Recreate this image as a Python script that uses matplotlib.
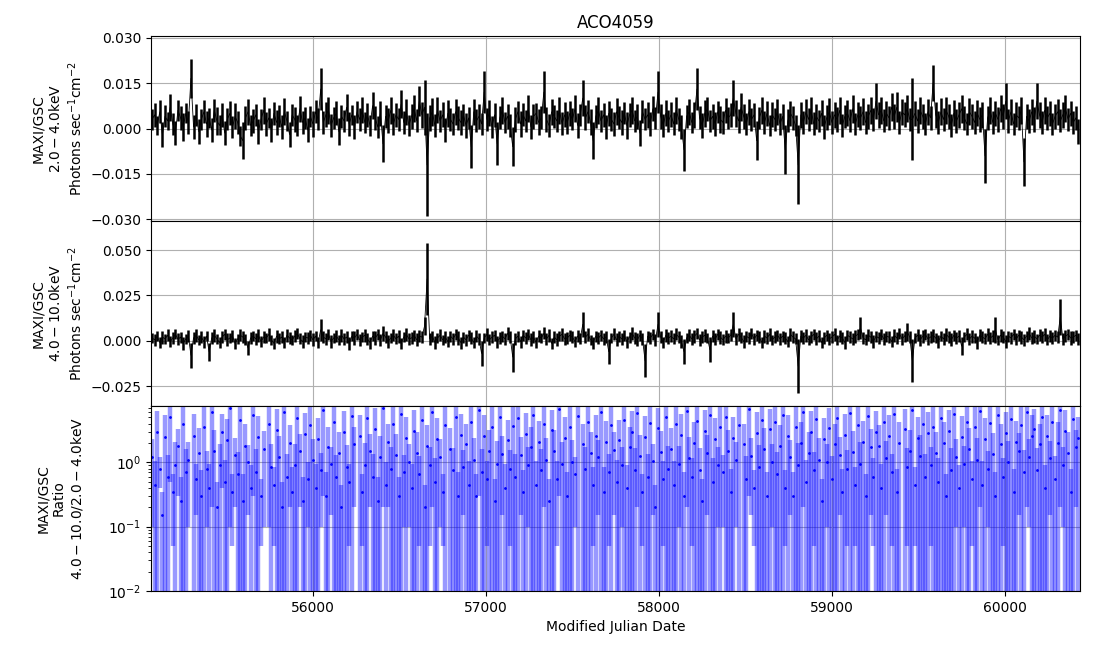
import numpy as np
import matplotlib
matplotlib.use("Agg")
import matplotlib.pyplot as plt
from matplotlib.ticker import MultipleLocator, FixedLocator

# ---- data (fluxes / errors in units of 1e-4 photons s^-1 cm^-2) ----
mjd_start = 55070
bin_days = 15

flux_lo = [
    30, 45, 10, 55, -20, 40, 25, 70, 15, -15, 60, 35, 5, 50, 20, 165, 5, 45, -10, 30,
    55, 15, 35, -5, 60, 25, 10, 45, -15, 30, 50, 5, 40, 20, -25, -40, 35, 55, 10, 25,
    45, -10, 30, 60, 15, 35, -5, 50, 20, 40, 5, 55, 25, -20, 45, 30, 10, 65, 20, 35,
    -5, 40, 15, 55, 30, 130, 20, 45, 60, 10, 35, 50, -10, 40, 25, 70, 15, 45, 5, 55,
    30, 60, 20, 45, 10, 75, 35, 5, 50, -50, 40, 25, 60, 15, 45, 30, 80, 20, 55, 10,
    40, 65, 25, 90, 45, 70, -120, 35, 55, 10, 60, 25, 45, -5, 50, 30, 15, 55, 35, 20,
    45, 10, 35, -60, 55, 25, 40, 15, 120, 30, 50, 5, 45, -50, 35, 60, 20, 40, 10, -60,
    30, 55, 15, 45, 25, 65, 5, 40, 50, 20, 35, 120, 30, 10, 55, 40, 25, 60, 15, 45,
    20, 50, 30, 65, 10, 45, 100, 35, 55, 20, -40, 40, 60, 25, 45, 5, 50, 30, 15, 55,
    35, 20, 50, 10, 45, 60, 25, 40, -15, 55, 30, 45, 15, 65, 35, 120, 40, 10, 50, 25,
    45, 15, 60, 30, 5, -70, 40, 55, 20, 45, 130, 35, 10, 50, 65, 25, 40, 15, 55, 30,
    20, 60, 35, 45, 100, 50, 25, 70, 40, 15, 55, 30, 45, -40, 35, 60, 20, 50, 10, 45,
    30, 55, 15, 40, -70, 25, 50, 35, 10, -120, 45, 20, 55, 30, 60, 15, 40, 25, 50, 5,
    35, 55, 20, 45, 30, 60, 10, 40, 50, 25, 65, 15, 45, 35, 55, 20, 40, 60, 30, 90,
    45, 60, 25, 50, 35, 70, 40, 70, 20, 55, 45, 65, 30, 30, 50, 25, 60, 40, 15, 55,
    35, 150, 45, 20, 55, 30, 60, 40, 10, 50, 25, 45, 65, 35, 15, 55, 40, 20, 50, 30,
    45, -90, 35, 60, 20, 50, 30, 65, 40, 90, 25, 55, 15, 45, 35, 60, -110, 40, 25, 55,
    30, 90, 45, 20, 60, 35, 50, 15, 40, 55, 25, 45, 65, 30, 50, 20, 35, -10,
]
err_lo = [
    35, 40, 32, 38, 42, 36, 30, 44, 37, 40, 34, 39, 45, 33, 38, 65, 41, 36, 40, 35,
    38, 42, 34, 40, 37, 45, 33, 39, 41, 36, 40, 35, 43, 38, 34, 60, 39, 42, 36, 40,
    37, 41, 35, 44, 39, 33, 40, 38, 42, 36, 39, 45, 34, 40, 37, 41, 35, 43, 38, 36,
    40, 35, 42, 38, 36, 70, 39, 41, 44, 37, 35, 40, 43, 38, 36, 45, 39, 34, 41, 37,
    38, 43, 36, 40, 35, 45, 39, 37, 42, 60, 38, 41, 44, 36, 40, 37, 46, 39, 42, 35,
    41, 45, 38, 50, 44, 90, 170, 42, 46, 39, 43, 37, 41, 40, 44, 38, 36, 42, 39, 41,
    37, 40, 35, 70, 42, 38, 41, 36, 70, 39, 43, 37, 40, 70, 38, 44, 36, 41, 39, 65,
    40, 37, 42, 38, 36, 44, 39, 41, 35, 43, 38, 70, 40, 37, 42, 39, 36, 45, 38, 41,
    39, 42, 36, 44, 40, 37, 60, 41, 38, 43, 60, 39, 45, 36, 40, 38, 42, 37, 41, 44,
    38, 41, 36, 43, 39, 45, 37, 40, 42, 38, 36, 44, 39, 41, 37, 70, 40, 38, 43, 36,
    41, 38, 44, 37, 40, 70, 39, 42, 36, 43, 70, 38, 41, 45, 39, 37, 42, 40, 36, 44,
    38, 42, 37, 40, 60, 44, 39, 46, 41, 36, 43, 38, 40, 65, 37, 44, 39, 42, 36, 41,
    39, 43, 37, 41, 80, 38, 42, 40, 36, 130, 44, 39, 41, 37, 45, 38, 40, 36, 43, 39,
    41, 44, 38, 42, 40, 45, 37, 39, 43, 38, 46, 36, 41, 40, 44, 38, 42, 45, 39, 60,
    42, 45, 38, 41, 39, 46, 40, 50, 37, 43, 41, 45, 38, 135, 42, 39, 44, 40, 37, 43,
    40, 60, 42, 38, 44, 39, 45, 41, 37, 43, 40, 42, 46, 39, 37, 44, 41, 38, 43, 40,
    42, 90, 39, 44, 38, 41, 40, 45, 42, 60, 39, 43, 37, 41, 40, 44, 80, 42, 39, 43,
    40, 60, 42, 38, 44, 39, 41, 37, 40, 43, 38, 42, 45, 39, 41, 38, 40, 42,
]
flux_hi = [
    15, 5, 25, -10, 20, 10, 30, -5, 15, 35, 8, 20, -15, 10, 25, -80, 15, 30, 5, 20,
    -5, 25, -60, 15, 30, 10, -10, 20, 35, 5, 15, 25, -15, 10, 30, 20, 5, -40, 15, 25,
    10, 30, -5, 20, 15, 35, 5, -15, 25, 10, 20, -10, 30, 15, 5, 25, 40, 10, -5, 20,
    15, 30, 5, 25, -10, 60, 20, 10, 35, -5, 15, 25, 5, 30, 10, 20, -15, 25, 15, 35,
    5, 20, 30, 10, -10, 25, 15, 35, 5, 40, 20, -5, 15, 30, 10, 25, -15, 20, 35, 10,
    15, 30, 5, 25, 20, 80, 340, 10, 25, -10, 15, 30, 5, 20, -5, 25, 10, 35, 15, -10,
    20, 5, 30, 15, -10, 25, 10, -70, 15, 35, 5, 20, 30, -5, 15, 25, 10, 40, 20, -90,
    10, 25, -5, 30, 15, 35, 5, 20, -10, 25, 15, 40, 10, 30, -15, 20, 5, 25, 35, 10,
    15, 30, 20, -5, 25, 10, 90, 20, 35, 5, -10, 25, 15, 30, 10, 20, -60, 15, 35, 5,
    25, 10, 30, -5, 20, 40, 15, 5, 30, 10, -110, 25, 15, 35, 5, 90, 20, -10, 30, 15,
    25, 10, 35, 20, -5, -60, 15, 30, 10, 25, 40, 5, 20, 30, 15, -50, 25, 10, 35, 20,
    5, 25, 15, 30, 90, 10, 35, 20, -5, 25, 15, 40, 10, 30, 20, -10, 25, 15, 35, 5,
    20, 30, 10, 25, 15, -5, 35, 20, 10, -140, 25, 15, 30, 5, 20, 35, 10, 25, -10, 15,
    30, 10, 20, 35, 5, 25, 15, -10, 30, 20, 10, 25, 35, 70, 15, 5, 30, 20, -5, 25,
    15, 35, 10, 25, 20, -5, 30, 15, 40, 10, 25, 50, 20, -110, 15, 30, 5, 25, 35, 10,
    20, 30, 15, -5, 25, 10, 35, 20, 5, 30, 15, 25, -30, 20, 35, 10, 25, 15, -10, 30,
    20, 10, 35, 15, 25, 60, 5, 30, 20, -5, 25, 15, 35, 10, 30, 20, 5, 25, 40, 15,
    25, 10, 30, 20, 35, 5, 25, 15, 30, 20, 130, 10, 25, 35, 15, 20, 30, 10,
]
err_hi = [
    30, 34, 28, 32, 36, 29, 33, 31, 35, 27, 32, 30, 34, 29, 33, 70, 31, 35, 28, 32,
    33, 29, 50, 31, 35, 28, 32, 34, 30, 36, 29, 33, 31, 27, 34, 32, 30, 40, 35, 29,
    31, 35, 29, 33, 30, 34, 28, 32, 36, 30, 33, 29, 35, 31, 28, 34, 32, 30, 36, 29,
    33, 30, 35, 28, 32, 60, 31, 34, 29, 36, 30, 33, 28, 35, 31, 32, 34, 29, 36, 30,
    32, 29, 35, 31, 33, 28, 36, 30, 34, 40, 31, 35, 29, 33, 30, 36, 32, 28, 34, 31,
    33, 30, 36, 32, 35, 50, 200, 34, 31, 36, 30, 33, 29, 35, 32, 30, 34, 31, 36, 33,
    30, 34, 31, 35, 29, 33, 32, 70, 30, 36, 31, 34, 29, 33, 35, 30, 32, 36, 31, 80,
    34, 30, 33, 29, 35, 31, 36, 32, 30, 34, 28, 33, 31, 35, 30, 32, 36, 29, 34, 31,
    33, 29, 35, 31, 34, 30, 70, 32, 36, 29, 33, 31, 35, 30, 34, 32, 70, 30, 33, 36,
    31, 35, 29, 33, 30, 34, 32, 36, 30, 33, 90, 31, 35, 29, 34, 70, 32, 30, 36, 31,
    34, 30, 33, 31, 35, 70, 29, 34, 32, 36, 30, 33, 31, 35, 29, 70, 32, 34, 30, 36,
    31, 35, 29, 33, 70, 32, 36, 30, 34, 31, 35, 29, 33, 30, 34, 32, 36, 31, 35, 29,
    33, 30, 35, 31, 34, 29, 36, 32, 30, 150, 33, 31, 35, 29, 34, 30, 36, 32, 31, 35,
    30, 34, 31, 35, 29, 33, 32, 36, 30, 34, 31, 35, 29, 60, 33, 30, 34, 32, 36, 31,
    35, 29, 33, 31, 34, 30, 36, 32, 29, 35, 31, 50, 33, 120, 30, 34, 32, 36, 29, 33,
    31, 35, 30, 34, 29, 33, 36, 31, 35, 30, 34, 32, 50, 29, 33, 31, 35, 30, 36, 32,
    34, 30, 35, 31, 33, 70, 29, 36, 32, 34, 30, 35, 31, 33, 29, 36, 32, 30, 34, 31,
    35, 29, 33, 31, 36, 30, 34, 32, 29, 35, 100, 31, 33, 30, 36, 32, 29, 34,
]
# hardness ratio (4-10 keV / 2-4 keV) and its error, in units of 0.01
ratio_val = [
    120, 45, 300, 80, 15, 250, 60, 500, 35, 90, 180, 25, 400, 70, 110, -40, 260, 55, 140, 30,
    350, 80, 40, 600, 150, 20, 90, 300, 50, 220, 700, 35, 130, 65, 450, 25, 180, 100, 40, 550,
    70, 250, 30, 160, -60, 400, 85, 45, 320, 120, 20, 600, 60, 200, 35, 90, 480, 150, 25, 280,
    55, 380, 110, 40, 230, 75, 650, 30, 170, 95, 420, 60, 140, 20, 300, 85, 50, 520, 190, -30,
    260, 35, 90, 480, 150, 60, 330, 25, 120, 700, 45, 210, 80, 390, 130, 30, 560, 70, 240, 100,
    40, 310, 140, 65, 450, 20, 180, 90, 600, 50, 230, 120, 35, 380, -50, 160, 75, 500, 30, 270,
    85, 190, 45, 420, 110, 30, 640, 70, 260, 55, 150, 350, 25, 95, 500, 135, 40, 220, 80, 370,
    60, 480, 130, 35, 280, 90, 170, 540, 45, 210, 75, 400, 110, 25, 320, 150, 55, 680, 95, 240,
    30, 350, 100, 65, 520, -40, 190, 80, 430, 140, 45, 260, 120, 600, 35, 210, 70, 380, 155, 50,
    220, 90, 460, 40, 170, 300, 75, 580, 125, 35, 250, 60, 410, 105, 20, 340, 145, 55, 500, 80,
    160, 45, 390, 95, 270, 30, 620, 115, 60, 200, 440, 75, 25, 310, 140, 540, 50, 230, 90, 360,
    70, 500, 150, 35, 240, 110, 380, -60, 190, 55, 670, 125, 40, 290, 85, 450, 160, 30, 330, 100,
    420, 65, 180, 550, 40, 260, 120, 30, 360, 90, 200, 610, 50, 140, 300, 75, 470, 110, 25, 230,
    100, 340, 55, 190, 480, 130, 35, 270, 80, 590, 145, 45, 380, 95, 210, 30, 520, 170, 60, 300,
    180, 40, 420, 115, 260, 70, 560, 35, 200, -50, 330, 85, 150, 640, 45, 240, 125, 400, 60, 290,
    90, 360, 140, 50, 490, 200, 30, 310, 75, 570, 120, 40, 250, 95, 430, 160, 55, 350, 110, 620,
    45, 230, 80, 410, 135, 30, 540, 190, 60, 290, 100, 470, 35, 210, 150, 380, 70, 600, 120, 260,
    330, 75, 190, 500, 40, 260, 115, 430, 55, 200, 650, 90, 310, 140, 35, 470, 170, 240,
]
ratio_err = [
    110, 60, 320, 40, 20, 290, 70, 450, 30, 120, 150, 35, 420, 90, 100, 20, 300, 40, 200, 45,
    380, 70, 55, 580, 170, 30, 100, 260, 60, 250, 690, 30, 110, 80, 470, 40, 210, 85, 50, 520,
    90, 270, 25, 150, 30, 390, 110, 40, 350, 140, 30, 610, 75, 180, 50, 100, 500, 130, 35, 310,
    45, 400, 120, 55, 250, 65, 620, 40, 190, 80, 450, 70, 160, 25, 330, 100, 45, 540, 170, 20,
    290, 30, 110, 500, 130, 75, 360, 35, 140, 680, 55, 190, 95, 410, 150, 30, 590, 60, 270, 90,
    55, 330, 160, 60, 470, 25, 200, 85, 580, 65, 250, 110, 30, 400, 20, 180, 90, 520, 40, 300,
    70, 210, 60, 440, 130, 35, 610, 90, 280, 50, 170, 370, 30, 120, 520, 120, 55, 240, 75, 390,
    75, 500, 115, 40, 300, 80, 190, 560, 60, 230, 85, 380, 130, 30, 340, 170, 50, 650, 110, 260,
    40, 370, 120, 55, 540, 25, 210, 95, 450, 160, 40, 280, 105, 620, 50, 230, 65, 400, 140, 60,
    240, 80, 480, 50, 190, 320, 90, 560, 140, 30, 270, 75, 430, 90, 25, 360, 165, 50, 520, 100,
    180, 60, 410, 85, 290, 40, 600, 130, 55, 220, 460, 90, 30, 330, 125, 560, 65, 250, 80, 380,
    60, 520, 170, 45, 260, 100, 400, 30, 210, 70, 640, 110, 35, 310, 100, 470, 180, 40, 350, 90,
    440, 80, 200, 570, 35, 280, 105, 40, 380, 110, 220, 590, 60, 160, 320, 70, 490, 130, 30, 250,
    90, 360, 70, 210, 500, 115, 45, 290, 75, 610, 160, 40, 400, 110, 230, 35, 540, 155, 55, 320,
    200, 55, 440, 100, 280, 65, 580, 45, 220, 30, 350, 80, 170, 660, 40, 260, 140, 420, 75, 310,
    85, 380, 160, 65, 510, 220, 35, 330, 90, 590, 110, 50, 270, 85, 450, 180, 50, 370, 125, 600,
    60, 250, 70, 430, 150, 40, 560, 210, 55, 310, 115, 490, 45, 230, 135, 400, 85, 580, 110, 280,
    350, 90, 210, 520, 50, 280, 100, 450, 70, 220, 630, 80, 330, 160, 45, 490, 150, 260,
]

title = "ACO4059"
xticks = [56000, 57000, 58000, 59000, 60000]

# ---- preparation ----
n = min(len(flux_lo), len(err_lo), len(flux_hi), len(err_hi),
        len(ratio_val), len(ratio_err))
f1 = np.array(flux_lo[:n], float) * 1e-4
e1 = np.array(err_lo[:n], float) * 1e-4
f2 = np.array(flux_hi[:n], float) * 1e-4
e2 = np.array(err_hi[:n], float) * 1e-4
r = np.array(ratio_val[:n], float) * 0.01
re = np.array(ratio_err[:n], float) * 0.01
t = mjd_start + bin_days * np.arange(n)

# ---- figure ----
fig = plt.figure(figsize=(10.96, 6.55), dpi=100)
gs = fig.add_gridspec(3, 1, hspace=0, left=151/1096, right=1080/1096,
                      top=1-36/655, bottom=1-591/655)
ax1 = fig.add_subplot(gs[0])
ax2 = fig.add_subplot(gs[1], sharex=ax1)
ax3 = fig.add_subplot(gs[2], sharex=ax1)

for ax, f, e in ((ax1, f1, e1), (ax2, f2, e2)):
    ax.errorbar(t, f, yerr=e, fmt='-', color='k', lw=0.6, ecolor='k',
                elinewidth=1.8, capsize=0)
    ax.grid(True)

ax3.errorbar(t, r, yerr=re, fmt='.', color='blue', ms=2,
             ecolor=(0, 0, 1, 0.4), elinewidth=3.2, capsize=0)
ax3.set_yscale('log', nonpositive='clip')
ax3.grid(True)

ax1.set_ylim(-0.0305, 0.0305)
ax1.yaxis.set_major_locator(FixedLocator([-0.03, -0.015, 0.0, 0.015, 0.03]))
ax2.set_ylim(-0.036, 0.066)
ax2.yaxis.set_major_locator(MultipleLocator(0.025))
ax3.set_ylim(0.01, 7.5)

ax1.set_xlim(55064, 60434)
ax3.xaxis.set_major_locator(FixedLocator(xticks))
plt.setp(ax1.get_xticklabels(), visible=False)
plt.setp(ax2.get_xticklabels(), visible=False)

ax1.set_title(title)
ax1.set_ylabel("MAXI/GSC\n$2.0-4.0$keV\nPhotons sec$^{-1}$cm$^{-2}$")
ax2.set_ylabel("MAXI/GSC\n$4.0-10.0$keV\nPhotons sec$^{-1}$cm$^{-2}$")
ax3.set_ylabel("MAXI/GSC\nRatio\n$4.0-10.0/2.0-4.0$keV")
ax3.set_xlabel("Modified Julian Date")
fig.align_ylabels([ax1, ax2, ax3])

fig.savefig("out.png", dpi=100)
